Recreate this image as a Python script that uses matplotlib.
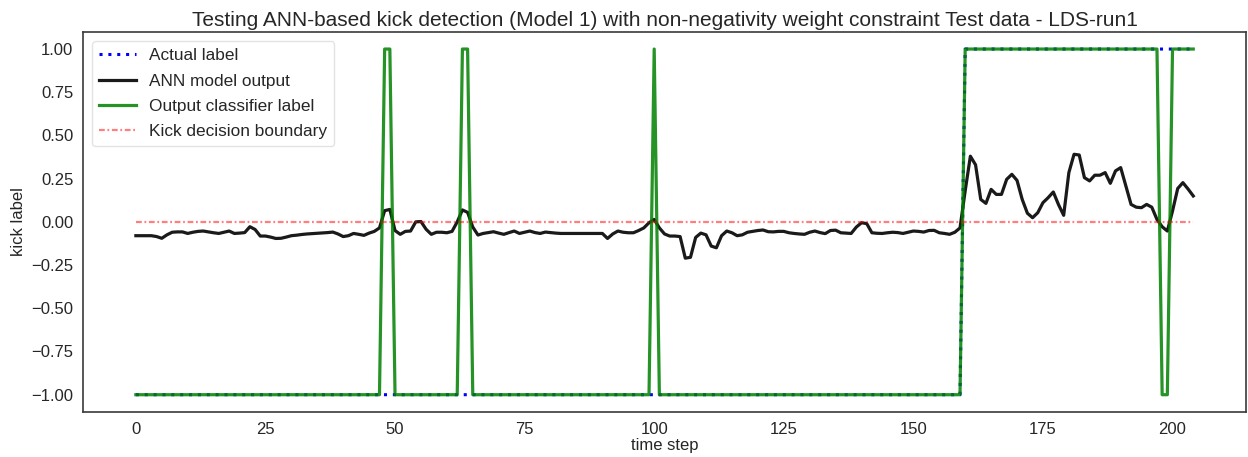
import numpy as np
import matplotlib
matplotlib.use("Agg")
import matplotlib.pyplot as plt

# ANN model output per time step
ann_output = [
    -0.080, -0.080, -0.080, -0.080, -0.085, -0.095, -0.075, -0.060, -0.058, -0.058,
    -0.067, -0.060, -0.055, -0.053, -0.058, -0.063, -0.067, -0.060, -0.053, -0.067,
    -0.065, -0.062, -0.028, -0.044, -0.082, -0.082, -0.088, -0.096, -0.095, -0.088,
    -0.080, -0.077, -0.073, -0.070, -0.068, -0.066, -0.064, -0.062, -0.059, -0.070,
    -0.085, -0.080, -0.067, -0.072, -0.078, -0.065, -0.055, -0.035, 0.065, 0.072,
    -0.050, -0.072, -0.055, -0.053, 0.000, 0.002, -0.043, -0.072, -0.060, -0.060,
    -0.063, -0.055, 0.000, 0.069, 0.055, -0.030, -0.076, -0.067, -0.062, -0.057,
    -0.065, -0.072, -0.062, -0.053, -0.067, -0.060, -0.053, -0.062, -0.067, -0.059,
    -0.062, -0.065, -0.067, -0.067, -0.067, -0.067, -0.067, -0.067, -0.067, -0.067,
    -0.067, -0.096, -0.070, -0.053, -0.060, -0.063, -0.063, -0.050, -0.035, -0.005,
    0.014, -0.035, -0.070, -0.082, -0.082, -0.085, -0.210, -0.205, -0.090, -0.065,
    -0.075, -0.140, -0.150, -0.080, -0.053, -0.063, -0.080, -0.075, -0.060, -0.055,
    -0.050, -0.047, -0.057, -0.058, -0.055, -0.055, -0.063, -0.067, -0.070, -0.072,
    -0.060, -0.053, -0.062, -0.068, -0.050, -0.048, -0.063, -0.065, -0.067, -0.030,
    -0.005, -0.010, -0.063, -0.066, -0.067, -0.063, -0.060, -0.062, -0.067, -0.060,
    -0.053, -0.055, -0.059, -0.050, -0.049, -0.063, -0.067, -0.072, -0.060, -0.035,
    0.180, 0.380, 0.330, 0.130, 0.107, 0.188, 0.159, 0.159, 0.246, 0.275,
    0.240, 0.130, 0.050, 0.024, 0.053, 0.111, 0.140, 0.173, 0.100, 0.038,
    0.285, 0.391, 0.387, 0.256, 0.237, 0.270, 0.270, 0.285, 0.223, 0.295,
    0.314, 0.208, 0.101, 0.085, 0.082, 0.101, 0.085, 0.014, -0.028, -0.053,
    0.063, 0.193, 0.227, 0.190, 0.150,
]

# Kick intervals (start, end inclusive) for the classifier output and the actual label
classifier_kicks = [(48, 49), (63, 64), (100, 100), (160, 197), (200, 204)]
actual_kicks = [(160, 204)]
decision_boundary = 0.0

n = len(ann_output)
time_step = np.arange(n)

def label_series(kicks):
    s = -np.ones(n)
    for a, b in kicks:
        s[a:b + 1] = 1.0
    return s

actual_label = label_series(actual_kicks)
classifier_label = label_series(classifier_kicks)

plt.rcParams['font.family'] = ['Liberation Sans', 'DejaVu Sans']
text_color = '#262626'
plt.rcParams['text.color'] = text_color
plt.rcParams['axes.labelcolor'] = text_color
plt.rcParams['xtick.color'] = text_color
plt.rcParams['ytick.color'] = text_color

fig = plt.figure(figsize=(12.48, 4.57), dpi=100)
ax = fig.add_axes([0.0665, 0.0985, 0.932, 0.832])

ax.plot(time_step, actual_label, color='blue', linewidth=2.2,
        dashes=(1.0, 1.9), label='Actual label')
ax.plot(time_step, ann_output, color='#1a1a1a', linewidth=2.3,
        label='ANN model output')
ax.plot(time_step, classifier_label, color='green', linewidth=2.3, alpha=0.85,
        label='Output classifier label')
ax.plot(time_step, np.full(n, decision_boundary), color='red',
        linewidth=1.6, alpha=0.5, dashes=(2.6, 1.2, 0.8, 1.2),
        label='Kick decision boundary')

ax.set_xticks(np.arange(0, 201, 25))
ax.set_yticks(np.arange(-1.0, 1.01, 0.25))
ax.set_yticklabels([f"{v:.2f}".replace('-', '\u2212') for v in np.arange(-1.0, 1.01, 0.25)])
ax.tick_params(axis='both', length=0, labelsize=12, pad=7)

ax.set_xlabel('time step', fontsize=12, labelpad=1)
ax.set_ylabel('kick label', fontsize=12, labelpad=4)
ax.set_title('Testing ANN-based kick detection (Model 1) with non-negativity weight constraint Test data - LDS-run1',
             fontsize=15, pad=4)

for sp in ax.spines.values():
    sp.set_color('#3a3a3a')
    sp.set_linewidth(1.2)

leg = ax.legend(loc='upper left', fontsize=12.4, frameon=True, framealpha=0.8,
                edgecolor='#dddddd', borderaxespad=0.55, handlelength=2.1,
                labelspacing=0.6)

fig.savefig('out.png', dpi=100)
